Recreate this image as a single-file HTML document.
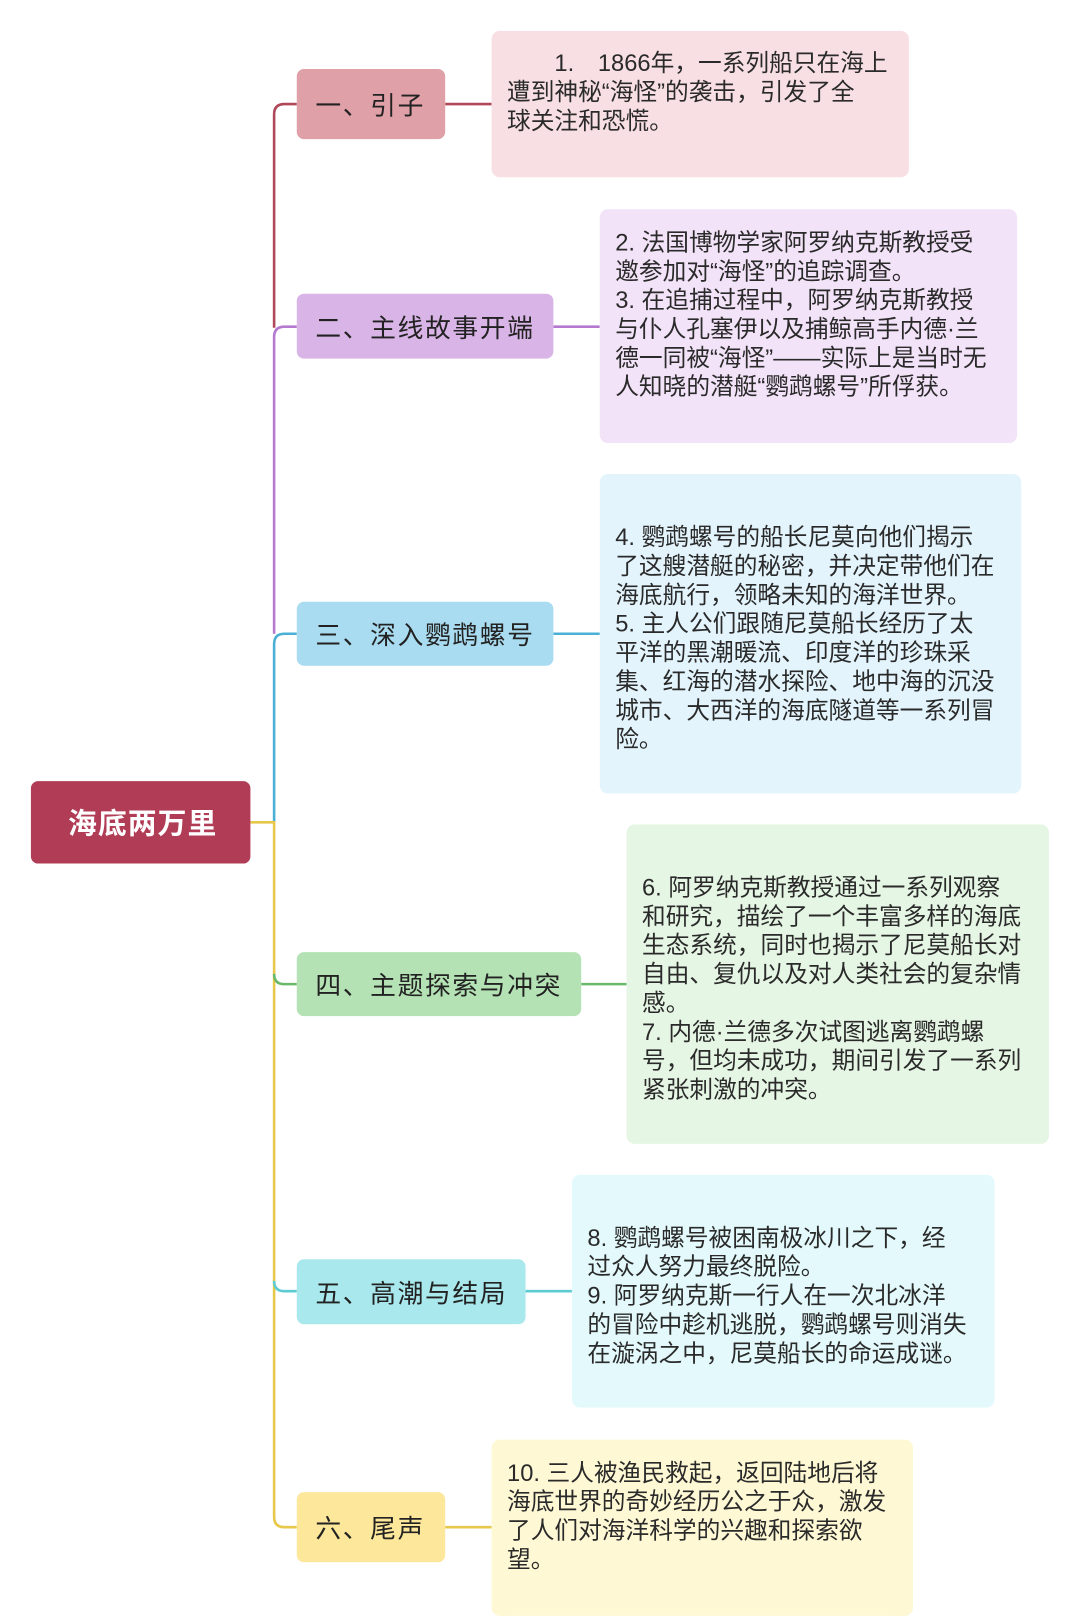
<!DOCTYPE html>
<html><head><meta charset="utf-8">
<style>
html,body{margin:0;padding:0;background:#fff;}
body{width:1080px;height:1616px;overflow:hidden;position:relative;}
#wrap{position:absolute;left:0;top:0;width:1048px;height:1568px;transform:scale(1.0305);transform-origin:0 0;}
.n{position:absolute;border-radius:7px;display:flex;align-items:center;padding-left:18px;box-sizing:border-box;
 font-family:"Liberation Sans","Noto Sans CJK SC",sans-serif;font-size:25px;color:#222;letter-spacing:1.6px;white-space:nowrap;}
.b{position:absolute;border-radius:8px;box-sizing:border-box;padding:0 8px 24px 15px;display:flex;align-items:center;
 font-family:"Liberation Sans","Noto Sans CJK SC",sans-serif;font-size:23px;line-height:28px;color:#2a2a2a;white-space:nowrap;}
.c{padding:8px 8px 0 15px;}
svg{position:absolute;left:0;top:0;}
</style></head><body><div id="wrap">
<svg width="1048" height="1568" fill="none" stroke-width="2.5">
<path d="M288,101 H276 Q266,101 266,111 V318" stroke="#b0485a"/>
<path d="M432,101 H477" stroke="#b0485a"/>
<path d="M288,317 H276 Q266,317 266,327 V615" stroke="#b57ad0"/>
<path d="M537,317 H582" stroke="#b57ad0"/>
<path d="M288,615 H276 Q266,615 266,625 V798" stroke="#4ab0d6"/>
<path d="M537,615 H582" stroke="#4ab0d6"/>
<path d="M243,798 H266 V1472 Q266,1482 276,1482 H288" stroke="#e8c84a"/>
<path d="M432,1482 H477" stroke="#e8c84a"/>
<path d="M266,945 Q266,955 276,955 H288" stroke="#6ab86a"/>
<path d="M564,955 H608" stroke="#6ab86a"/>
<path d="M266,1243 Q266,1253 276,1253 H288" stroke="#5ccbd2"/>
<path d="M510,1253 H555" stroke="#5ccbd2"/>
</svg>

<div class="n" style="left:30px;top:758px;width:213px;height:80px;background:#b03c56;color:#fff;font-weight:bold;font-size:28px;padding-left:36px;letter-spacing:1px;">海底两万里</div>

<div class="n" style="left:288px;top:67px;width:144px;height:68px;background:#dfa0a8;">一、引子</div>
<div class="b" style="left:477px;top:30px;width:405px;height:142px;background:#f7dfe3;">　　1.　1866年，一系列船只在海上<br>遭到神秘“海怪”的袭击，引发了全<br>球关注和恐慌。</div>

<div class="n" style="left:288px;top:285px;width:249px;height:63px;background:#d9b4e6;">二、主线故事开端</div>
<div class="b" style="left:582px;top:203px;width:405px;height:227px;background:#f3e3f8;">2. 法国博物学家阿罗纳克斯教授受<br>邀参加对“海怪”的追踪调查。<br>3. 在追捕过程中，阿罗纳克斯教授<br>与仆人孔塞伊以及捕鲸高手内德·兰<br>德一同被“海怪”——实际上是当时无<br>人知晓的潜艇“鹦鹉螺号”所俘获。</div>

<div class="n" style="left:288px;top:584px;width:249px;height:62px;background:#a9dcf1;">三、深入鹦鹉螺号</div>
<div class="b c" style="left:582px;top:460px;width:409px;height:310px;background:#e3f4fc;">4. 鹦鹉螺号的船长尼莫向他们揭示<br>了这艘潜艇的秘密，并决定带他们在<br>海底航行，领略未知的海洋世界。<br>5. 主人公们跟随尼莫船长经历了太<br>平洋的黑潮暖流、印度洋的珍珠采<br>集、红海的潜水探险、地中海的沉没<br>城市、大西洋的海底隧道等一系列冒<br>险。</div>

<div class="n" style="left:288px;top:924px;width:276px;height:62px;background:#b4e2b4;">四、主题探索与冲突</div>
<div class="b c" style="left:608px;top:800px;width:410px;height:310px;background:#e6f6e4;">6. 阿罗纳克斯教授通过一系列观察<br>和研究，描绘了一个丰富多样的海底<br>生态系统，同时也揭示了尼莫船长对<br>自由、复仇以及对人类社会的复杂情<br>感。<br>7. 内德·兰德多次试图逃离鹦鹉螺<br>号，但均未成功，期间引发了一系列<br>紧张刺激的冲突。</div>

<div class="n" style="left:288px;top:1222px;width:222px;height:63px;background:#a9e8ec;">五、高潮与结局</div>
<div class="b c" style="left:555px;top:1140px;width:410px;height:226px;background:#e3f9fb;">8. 鹦鹉螺号被困南极冰川之下，经<br>过众人努力最终脱险。<br>9. 阿罗纳克斯一行人在一次北冰洋<br>的冒险中趁机逃脱，鹦鹉螺号则消失<br>在漩涡之中，尼莫船长的命运成谜。</div>

<div class="n" style="left:288px;top:1448px;width:144px;height:68px;background:#fce79a;">六、尾声</div>
<div class="b" style="left:477px;top:1397px;width:409px;height:171px;background:#fef8d4;">10. 三人被渔民救起，返回陆地后将<br>海底世界的奇妙经历公之于众，激发<br>了人们对海洋科学的兴趣和探索欲<br>望。</div>
</div></body></html>
